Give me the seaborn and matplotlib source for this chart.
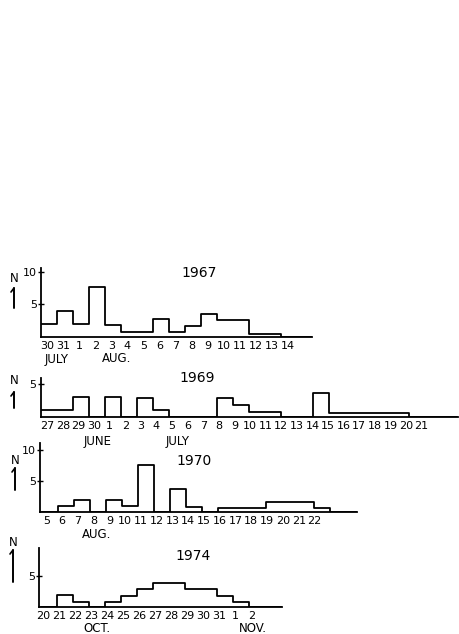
import numpy as np
import pandas as pd
import matplotlib
matplotlib.use("Agg")
import matplotlib.pyplot as plt
import seaborn as sns
from matplotlib.lines import Line2D

# ---------------- data ----------------
days_1967 = ["30", "31", "1", "2", "3", "4", "5", "6", "7", "8", "9", "10", "11", "12", "13", "14"]
n_1967 = [2.0, 3.9, 1.9, 7.7, 1.8, 0.7, 0.7, 2.7, 0.7, 1.7, 3.5, 2.5, 2.5, 0.45, 0.45, 0, 0]

days_1969 = ["27", "28", "29", "30", "1", "2", "3", "4", "5", "6", "7", "8", "9", "10",
             "11", "12", "13", "14", "15", "16", "17", "18", "19", "20", "21"]
n_1969 = [1.1, 1.1, 3.0, 0, 3.0, 0, 2.8, 1.0, 0, 0, 0, 2.8, 1.8, 0.75, 0.75, 0, 0,
          3.6, 0.5, 0.5, 0.5, 0.5, 0.5, 0, 0, 0]

days_1970 = ["5", "6", "7", "8", "9", "10", "11", "12", "13", "14", "15", "16", "17",
             "18", "19", "20", "21", "22"]
n_1970 = [0, 0.9, 1.85, 0, 1.85, 0.9, 7.6, 0, 3.7, 0.8, 0, 0.65, 0.65, 0.65,
          1.6, 1.6, 1.6, 0.55, 0, 0]

days_1974 = ["20", "21", "22", "23", "24", "25", "26", "27", "28", "29", "30", "31", "1", "2"]
n_1974 = [0, 1.9, 0.8, 0, 0.8, 1.75, 2.85, 3.75, 3.75, 2.8, 2.8, 1.65, 0.7, 0, 0, 0]

years = ["1967", "1969", "1970", "1974"]
months = {
    "1967": [("JULY", 57, 359), ("AUG.", 117, 359)],
    "1969": [("JUNE", 98, 441), ("JULY", 178, 441)],
    "1970": [("AUG.", 97, 535)],
    "1974": [("OCT.", 97, 628), ("NOV.", 253, 628)],
}

# ---------------- style ----------------
sns.set_style("ticks")
plt.rcParams["font.family"] = ["DejaVu Sans"]
plt.rcParams["text.color"] = "black"
plt.rcParams["xtick.color"] = "black"
plt.rcParams["ytick.color"] = "black"
plt.rcParams["axes.edgecolor"] = "black"

W, H = 459, 634
fig = plt.figure(figsize=(W / 100, H / 100), dpi=100)
fig.patch.set_facecolor("white")

LW = 1.3
PXD = 16.0  # pixels per day


def px_axes(x0, xmin, xmax, base, ytop, py):
    left = x0 + xmin * PXD
    return fig.add_axes([left / W, 1 - base / H, (xmax - xmin) * PXD / W, ytop * py / H])


layout = {
    "1967": dict(x0=41, xl=(0, 16.94), base=336.7, ytop=10.6, py=6.5, yt=[5, 10],
                 off=0.4, sp=1.0, title=(199, 273), n=(14, 279, 288, 308)),
    "1969": dict(x0=40.7, xl=(0, 26.1), base=416.7, ytop=5.9, py=6.54, yt=[5],
                 off=0.41, sp=0.975, title=(197, 378), n=(14, 380, 392, 408)),
    "1970": dict(x0=41.5, xl=(-0.1, 19.7), base=511.7, ytop=11.1, py=6.2, yt=[5, 10],
                 off=0.3, sp=0.986, title=(194, 461), n=(15, 460, 468, 490)),
    "1974": dict(x0=40.8, xl=(-0.1, 15.1), base=606.7, ytop=9.5, py=6.2, yt=[5],
                 off=0.15, sp=1.0, title=(193, 556), n=(13, 542, 550, 582)),
}

data = {
    "1967": (days_1967, n_1967),
    "1969": (days_1969, n_1969),
    "1970": (days_1970, n_1970),
    "1974": (days_1974, n_1974),
}

for yr in years:
    L = layout[yr]
    days, vals = data[yr]
    ax = px_axes(L["x0"], L["xl"][0], L["xl"][1], L["base"], L["ytop"], L["py"])
    vals = np.asarray(vals, dtype=float)
    nb = len(vals)
    df = pd.DataFrame({"day": np.arange(nb) + 0.5, "N": vals})
    sns.histplot(data=df, x="day", weights="N", binwidth=1, binrange=(0, nb),
                 element="step", fill=False, color="black", linewidth=LW, ax=ax)
    ax.set_xlim(*L["xl"])
    ax.set_ylim(0, L["ytop"])
    ax.set_xlabel("")
    ax.set_ylabel("")
    ax.set_facecolor("none")
    for s in ["top", "right"]:
        ax.spines[s].set_visible(False)
    for s in ["left", "bottom"]:
        ax.spines[s].set_linewidth(LW)
        ax.spines[s].set_color("black")
    pos = L["off"] + L["sp"] * np.arange(len(days))
    ax.set_xticks(pos)
    ax.set_xticklabels(days, fontsize=8, color="black")
    ax.tick_params(axis="x", length=0, pad=3, colors="black")
    ax.set_yticks(L["yt"])
    ax.set_yticklabels([str(t) for t in L["yt"]], fontsize=8, color="black")
    ax.tick_params(axis="y", direction="inout", length=4, width=1, pad=1, colors="black")

    tx, ty = L["title"]
    fig.text(tx / W, 1 - ty / H, yr, fontsize=10, ha="center", va="center", color="black")
    for name, mx, my in months[yr]:
        fig.text(mx / W, 1 - my / H, name, fontsize=8.5, ha="center", va="center", color="black")
    nx, ny, a0, a1 = L["n"]
    fig.text(nx / W, 1 - ny / H, "N", fontsize=8.5, ha="center", va="center", color="black")
    fig.add_artist(Line2D([nx / W, nx / W], [1 - a0 / H, 1 - a1 / H],
                          transform=fig.transFigure, color="black", lw=1.4))
    fig.add_artist(Line2D([nx / W, (nx - 3) / W], [1 - a0 / H, 1 - (a0 + 4) / H],
                          transform=fig.transFigure, color="black", lw=1.2))

fig.savefig("out.png", dpi=100, facecolor="white")
